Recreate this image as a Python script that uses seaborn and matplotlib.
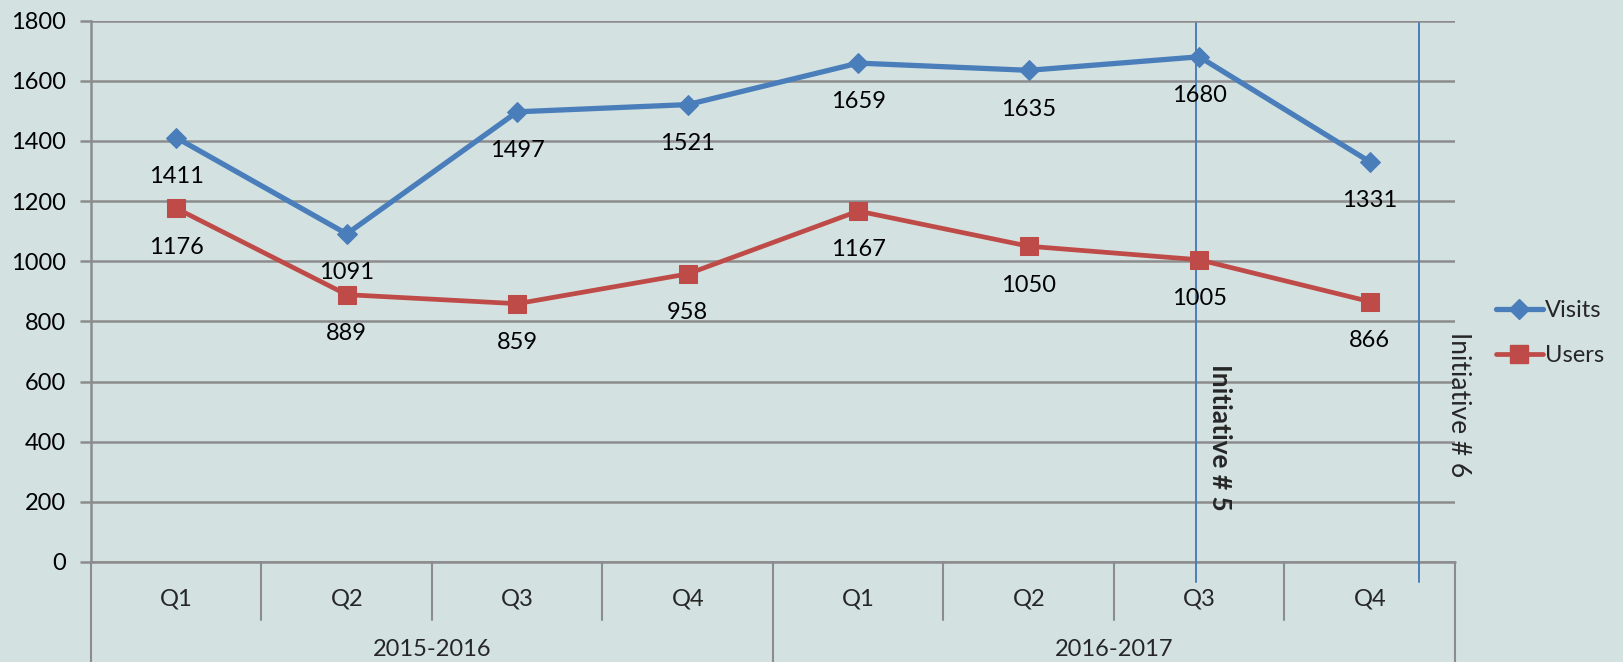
import matplotlib
matplotlib.use("Agg")
import matplotlib.pyplot as plt
import seaborn as sns
import pandas as pd
import numpy as np
from matplotlib.lines import Line2D

quarters = ["Q1", "Q2", "Q3", "Q4", "Q1", "Q2", "Q3", "Q4"]
years = ["2015-2016", "2016-2017"]
visits = [1411, 1091, 1497, 1521, 1659, 1635, 1680, 1331]
users = [1176, 889, 859, 958, 1167, 1050, 1005, 866]
initiatives = ["Initiative # 5", "Initiative # 6"]
initiative_pos = [5.98, 7.29]

sns.set_theme(style="white")
plt.rcParams['font.family'] = ['Lato', 'DejaVu Sans']

BG = "#D3E1E1"
BLUE = "#4A7EBB"
RED = "#BE4B48"
GRID = "#8C8C8C"
FS = 17

fig = plt.figure(figsize=(16.24, 6.62), dpi=100, facecolor=BG)
ax = fig.add_axes([91/1624, 1-562/662, (1455-91)/1624, (562-20.7)/662])
ax.set_facecolor(BG)

idx = np.arange(len(quarters))
df = pd.DataFrame({"idx": idx, "Visits": visits, "Users": users})

sns.lineplot(data=df, x="idx", y="Visits", ax=ax, color=BLUE, lw=3.8,
             marker="D", markersize=10.5, markeredgecolor=BLUE, zorder=5)
sns.lineplot(data=df, x="idx", y="Users", ax=ax, color=RED, lw=3.4,
             marker="s", markersize=13, markeredgecolor=RED, zorder=5)

ax.set_xlim(-0.5, 7.5)
ax.set_ylim(0, 1800)
ax.set_yticks(range(0, 1801, 200))
ax.yaxis.grid(True, color=GRID, lw=1.8)
ax.set_axisbelow(True)
for s in ["top", "right", "bottom"]:
    ax.spines[s].set_visible(False)
ax.spines["left"].set_color(GRID)
ax.spines["left"].set_linewidth(1.8)
ax.tick_params(axis="y", which="both", left=True, length=8, width=1.8,
               color=GRID, labelsize=FS, pad=10, labelcolor="black")
ax.set_xticks([])
ax.set_xlabel("")
ax.set_ylabel("")

# data labels
for i, v in enumerate(visits):
    ax.annotate(str(v), (i, v), xytext=(0, -28), textcoords="offset points",
                ha="center", va="center", fontsize=FS, color="black", zorder=6)
for i, v in enumerate(users):
    ax.annotate(str(v), (i, v), xytext=(0, -28), textcoords="offset points",
                ha="center", va="center", fontsize=FS, color="black", zorder=6)

# multi-level category axis
trans = ax.get_xaxis_transform()
ax.plot([-0.5, 7.5], [0, 0], transform=trans, color=GRID, lw=1.8, clip_on=False)
for i, q in enumerate(quarters):
    ax.text(i, -0.068, q, transform=trans, ha="center", va="center", fontsize=FS)
for b in [0.5, 1.5, 2.5, 4.5, 5.5, 6.5]:
    ax.plot([b, b], [0, -0.108], transform=trans, color=GRID, lw=1.5, clip_on=False)
for b in [-0.5, 3.5, 7.5]:
    ax.plot([b, b], [0, -0.25], transform=trans, color=GRID, lw=1.5, clip_on=False)
for j, yr in enumerate(years):
    ax.text(1.5 + 4*j, -0.161, yr, transform=trans, ha="center", va="center", fontsize=FS)

# initiative lines
for k, (name, xpos) in enumerate(zip(initiatives, initiative_pos)):
    ax.plot([xpos, xpos], [0.996, -0.037], transform=trans, color=BLUE, lw=1.4,
            clip_on=False, zorder=4)
ax.text(6.12, 416, initiatives[0], rotation=-90, ha="center", va="center",
        fontsize=19, fontweight="bold", zorder=6)
ax.text(7.52, 525, initiatives[1], rotation=-90, ha="center", va="center",
        fontsize=19, zorder=6, clip_on=False)

handles = [Line2D([], [], color=BLUE, lw=3.8, marker="D", markersize=10.5),
           Line2D([], [], color=RED, lw=3.4, marker="s", markersize=13)]
fig.legend(handles, ["Visits", "Users"], loc="center left",
           bbox_to_anchor=(1484/1624, 1-333/662), frameon=False, fontsize=FS,
           handlelength=2.0, handletextpad=0.1, labelspacing=1.0, borderpad=0)

fig.savefig("out.png", dpi=100, facecolor=BG)
